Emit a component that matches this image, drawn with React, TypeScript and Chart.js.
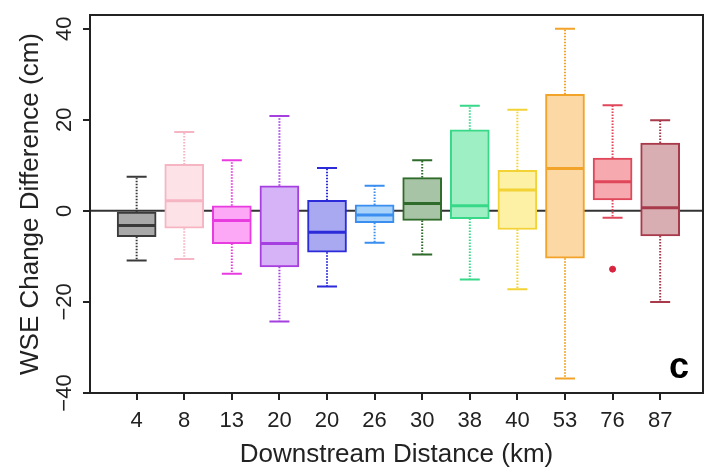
import React, { useEffect, useRef } from "react";
import { Chart, registerables } from "chart.js";

Chart.register(...registerables);

const categories = ["4", "8", "13", "20", "20", "26", "30", "38", "40", "53", "76", "87"];
const whiskerMax = [7.5, 17.3, 11.1, 20.8, 9.4, 5.5, 11.1, 23.1, 22.2, 40.0, 23.2, 19.9];
const q3Values = [-0.3, 10.2, 1.1, 5.5, 2.3, 1.3, 7.3, 17.8, 8.9, 25.6, 11.6, 14.9];
const medians = [-3.2, 2.2, -2.1, -7.2, -4.7, -0.9, 1.6, 1.1, 4.6, 9.3, 6.4, 0.7];
const q1Values = [-5.7, -3.8, -7.2, -12.3, -9.1, -2.6, -2.1, -1.7, -4.1, -10.4, 2.4, -5.5];
const whiskerMin = [-10.9, -10.6, -13.8, -24.3, -16.6, -7.0, -9.6, -15.1, -17.2, -36.8, -1.5, -20.0];
const outlierX = [11];
const outlierY = [-12.8];
const yTicks = [-40, -20, 0, 20, 40];

const fillColors = ["#a9a9a9", "#fde3e8", "#fca8f6", "#d6b3f7", "#a9a9f2", "#a9d2fb", "#a8c4a6", "#9ef0c4", "#fdf1a6", "#fcd9a4", "#f6a9ae", "#d8aeb2"];
const lineColors = ["#3a3a3a", "#f6b5c3", "#e83be0", "#a63fe0", "#2b2bd9", "#3a8ef0", "#2f6b2a", "#38d889", "#f2d234", "#f2a32a", "#e0475a", "#a83a4b"];

const FONT = "'Liberation Sans', Arial, sans-serif";

const boxPlugin = {
  id: "boxExtras",
  beforeDatasetsDraw(chart: any) {
    const { ctx, chartArea: a, scales } = chart;
    const x = scales.x, y = scales.y;
    ctx.save();
    const y0 = y.getPixelForValue(0);
    ctx.strokeStyle = "#333";
    ctx.lineWidth = 2;
    ctx.beginPath();
    ctx.moveTo(a.left, y0);
    ctx.lineTo(a.right, y0);
    ctx.stroke();
    categories.forEach((_, i) => {
      const cx = x.getPixelForValue(i + 1);
      const yMax = y.getPixelForValue(whiskerMax[i]);
      const yMin = y.getPixelForValue(whiskerMin[i]);
      const yQ3 = y.getPixelForValue(q3Values[i]);
      const yQ1 = y.getPixelForValue(q1Values[i]);
      ctx.strokeStyle = lineColors[i];
      ctx.lineWidth = 2;
      ctx.setLineDash([1.5, 1.5]);
      ctx.beginPath();
      ctx.moveTo(cx, yQ3);
      ctx.lineTo(cx, yMax);
      ctx.moveTo(cx, yQ1);
      ctx.lineTo(cx, yMin);
      ctx.stroke();
      ctx.setLineDash([]);
      ctx.beginPath();
      ctx.moveTo(cx - 10, yMax);
      ctx.lineTo(cx + 10, yMax);
      ctx.moveTo(cx - 10, yMin);
      ctx.lineTo(cx + 10, yMin);
      ctx.stroke();
    });
    ctx.restore();
  },
  afterDatasetsDraw(chart: any) {
    const { ctx, scales } = chart;
    const x = scales.x, y = scales.y;
    ctx.save();
    categories.forEach((_, i) => {
      const cx = x.getPixelForValue(i + 1);
      const ym = y.getPixelForValue(medians[i]);
      ctx.strokeStyle = lineColors[i];
      ctx.lineWidth = 3;
      ctx.beginPath();
      ctx.moveTo(cx - 19, ym);
      ctx.lineTo(cx + 19, ym);
      ctx.stroke();
    });
    ctx.restore();
  },
  afterDraw(chart: any) {
    const { ctx, chartArea: a, scales } = chart;
    const x = scales.x, y = scales.y;
    ctx.save();
    ctx.setLineDash([]);
    ctx.strokeStyle = "#222";
    ctx.lineWidth = 2;
    ctx.strokeRect(a.left, a.top, a.right - a.left, a.bottom - a.top);
    ctx.lineWidth = 2;
    ctx.strokeStyle = "#222";
    for (let i = 0; i < categories.length; i++) {
      const cx = Math.round(x.getPixelForValue(i + 1));
      ctx.beginPath();
      ctx.moveTo(cx, a.bottom);
      ctx.lineTo(cx, a.bottom + 7);
      ctx.stroke();
    }
    for (const v of yTicks) {
      const py = Math.round(y.getPixelForValue(v));
      ctx.beginPath();
      ctx.moveTo(a.left, py);
      ctx.lineTo(a.left - 7, py);
      ctx.stroke();
    }
    ctx.fillStyle = "#000";
    ctx.font = `bold 36px ${FONT}`;
    ctx.textAlign = "center";
    ctx.textBaseline = "alphabetic";
    ctx.fillText("c", a.right - 24, a.bottom - 15);
    ctx.restore();
  },
};

export default function App() {
  const ref = useRef<HTMLCanvasElement>(null);
  useEffect(() => {
    if (!ref.current) return;
    const chart = new Chart(ref.current, {
      type: "bar",
      data: {
        datasets: [
          {
            type: "bar",
            data: categories.map((_, i) => ({ x: i + 1, y: [q1Values[i], q3Values[i]] })) as any,
            backgroundColor: fillColors,
            borderColor: lineColors,
            borderWidth: 2,
            borderSkipped: false,
            barThickness: 39,
          } as any,
          {
            type: "scatter",
            data: outlierX.map((v, i) => ({ x: v, y: outlierY[i] })),
            backgroundColor: "#d8243f",
            borderColor: "#d8243f",
            pointRadius: 3,
          } as any,
        ],
      },
      options: {
        responsive: false,
        animation: false,
        layout: { padding: { top: 15, right: 2, left: 0, bottom: 0 } },
        plugins: { legend: { display: false }, tooltip: { enabled: false } },
        scales: {
          x: {
            type: "linear",
            min: 0.02,
            max: 12.9,
            offset: false,
            afterBuildTicks: (s: any) => {
              s.ticks = categories.map((_, i) => ({ value: i + 1 }));
            },
            afterFit: (s: any) => {
              s.height = 80;
            },
            ticks: {
              autoSkip: false,
              maxRotation: 0,
              color: "#222",
              padding: 9,
              font: { family: FONT, size: 22 },
              callback: (v: any) => categories[Number(v) - 1] ?? "",
            },
            grid: { display: false, drawTicks: true, tickLength: 6 },
            border: { display: false },
            title: {
              display: true,
              text: "Downstream Distance (km)",
              color: "#222",
              font: { family: FONT, size: 26, lineHeight: 1.2 },
              padding: { top: 0, bottom: 3 },
            },
          },
          y: {
            type: "linear",
            min: -40,
            max: 43,
            afterBuildTicks: (s: any) => {
              s.ticks = yTicks.map((v) => ({ value: v }));
            },
            afterFit: (s: any) => {
              s.width = 90;
            },
            ticks: {
              minRotation: 90,
              maxRotation: 90,
              crossAlign: "center",
              color: "#222",
              padding: 0,
              font: { family: FONT, size: 22 },
              callback: (v: any) => String(v).replace("-", "\u2212"),
            },
            grid: { display: false, drawTicks: true, tickLength: 6 },
            border: { display: false },
            title: {
              display: true,
              text: "WSE Change Difference (cm)",
              color: "#222",
              font: { family: FONT, size: 26, lineHeight: 1.2 },
              padding: { top: 15, bottom: 0 },
            },
          },
        },
      } as any,
      plugins: [boxPlugin],
    });
    return () => chart.destroy();
  }, []);
  return (
    <div style={{ position: "fixed", left: 0, top: 0, width: 708, height: 473, background: "#fff" }}>
      <canvas ref={ref} width={708} height={473} />
    </div>
  );
}
